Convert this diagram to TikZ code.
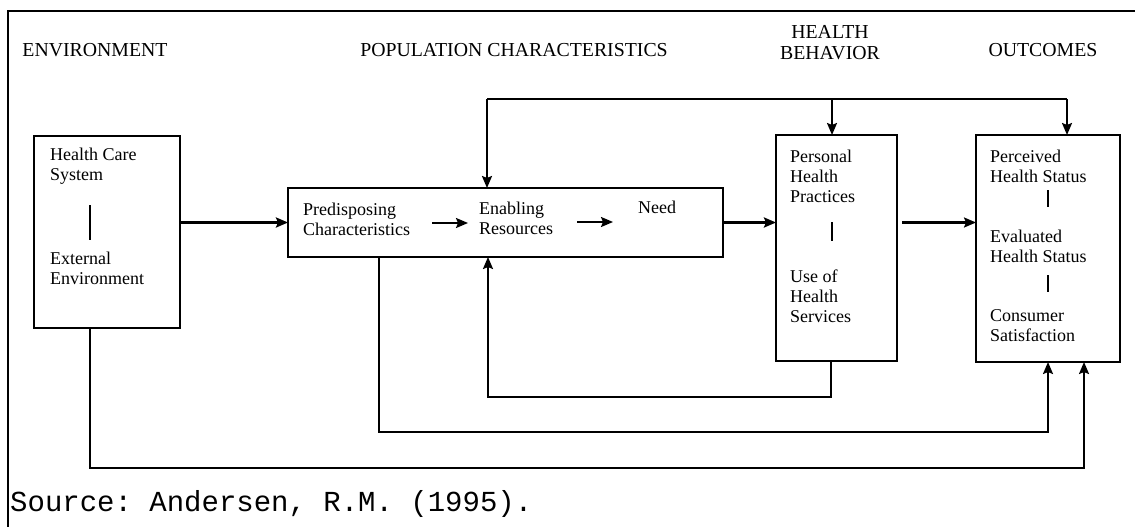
\documentclass[tikz,border=0pt]{standalone}
\usepackage{fontspec}
\setmainfont{Liberation Serif}
\setmonofont{Liberation Mono}
\usetikzlibrary{arrows.meta,calc}
\begin{document}
\begin{tikzpicture}[x=1pt,y=-1pt,
  box/.style={draw, line width=1.8pt, rectangle, inner sep=0pt, outer sep=0pt},
  txt/.style={anchor=west, inner sep=0pt, align=left, font=\fontsize{18}{20}\selectfont},
  head/.style={inner sep=0pt, align=center, font=\fontsize{19.8}{21}\selectfont},
  conn/.style={line width=2.1pt},
  arr/.style={conn, -{Stealth[length=12pt,width=10pt,inset=2pt]}},
  bar/.style={line width=2.2pt}]
\useasboundingbox (0,0) rectangle (1135,527);
\draw[line width=1.2pt] (1135,11) -- (8,11) -- (8,527);

% headings
\node[head] (hEnv) at (95,50) {ENVIRONMENT};
\node[head] (hPop) at (514,50) {POPULATION CHARACTERISTICS};
\node[head] (hBeh) at (830,43) {HEALTH\\BEHAVIOR};
\node[head] (hOut) at (1043,50) {OUTCOMES};

% boxes
\node[box, minimum width=146pt, minimum height=192pt] (env) at (107,232) {};
\node[box, minimum width=435pt, minimum height=69pt] (pop) at (505.5,222.5) {};
\node[box, minimum width=121pt, minimum height=226pt] (pers) at (836.5,248) {};
\node[box, minimum width=144pt, minimum height=227pt] (out) at (1048,248.5) {};

% environment texts
\node[txt] (env1) at (50,166) {Health Care\\System};
\node[txt] (env2) at (50,268) {External\\Environment};
\draw[bar] (90,205) -- (90,240);

% population texts
\node[txt] (pre) at (303,219) {Predisposing\\Characteristics};
\node[txt] (ena) at (479,218) {Enabling\\Resources};
\node[txt] (need) at (638,207) {Need};
\draw[arr, line width=1.9pt] ($(pre.east)+(22,4)$) -- ($(ena.west)+(-11,5)$);
\draw[arr, line width=1.9pt] ($(ena.east)+(24,4)$) -- ($(need.west)+(-25,15)$);

% personal texts
\node[txt] (pers1) at (790,176) {Personal\\Health\\Practices};
\node[txt] (pers2) at (790,296) {Use of\\Health\\Services};
\draw[bar] (832,222) -- (832,241);

% outcome texts
\node[txt] (out1) at (990,166) {Perceived\\Health Status};
\node[txt] (out2) at (990,246) {Evaluated\\Health Status};
\node[txt] (out3) at (990,326) {Consumer\\Satisfaction};
\draw[bar] (1048,190) -- (1048,207);
\draw[bar] (1048,275) -- (1048,292);

% main flow
\draw[arr, line width=2.6pt] (env.east |- pop.west) -- (pop.west);
\draw[arr, line width=2.6pt] (pop.east) -- (pers.west |- pop.east);
\draw[arr] ([xshift=5pt]pers.east |- pop.east) -- (out.west |- pop.east);

% top feedback bus
\coordinate (busL) at (487,99);
\coordinate (busR) at (1067,99);
\draw[conn] (busL) -- (busR);
\draw[arr] (busL) -- (busL |- pop.north);
\draw[arr] ([xshift=-4.5pt]pers.north |- busL) -- ([xshift=-4.5pt]pers.north);
\draw[arr] (busR) -- (busR |- out.north);

% bottom feedback loops
\draw[arr] ([xshift=-5.5pt]pers.south) -- ++(0,36) -| ($(pop.south west)+(200,0)$);
\draw[arr] ($(pop.south west)+(91,0)$) -- ++(0,175) -| ($(out.south west)+(72,0)$);
\draw[arr] ($(env.south west)+(56,0)$) -- ++(0,140) -| ($(out.south west)+(108,0)$);

% source
\node[anchor=base west, inner sep=0pt, font=\ttfamily\fontsize{29}{31}\selectfont] (src) at (10,511) {Source: Andersen, R.M. (1995).};
\end{tikzpicture}
\end{document}
